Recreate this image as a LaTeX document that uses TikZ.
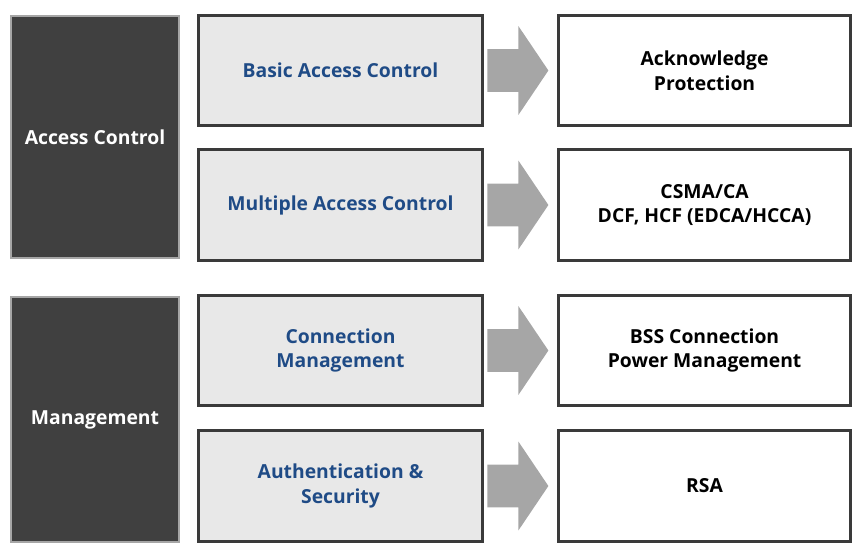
\documentclass[tikz,border=0pt]{standalone}
\usepackage{fontspec}
\setmainfont{Open Sans}
\usetikzlibrary{positioning, shapes.arrows}

\definecolor{darkbox}{HTML}{404040}
\definecolor{boxline}{HTML}{3A3A3A}
\definecolor{navytext}{HTML}{1F4B86}
\definecolor{arrowgray}{HTML}{A6A6A6}

\begin{document}
\begin{tikzpicture}[
      x=0.02cm, y=-0.02cm,
      group/.style={rectangle, draw=gray!70, line width=1.2pt, fill=darkbox, text=white,
                    minimum width=3.36cm, align=center, font=\bfseries\fontsize{11}{14}\selectfont},
      func/.style={rectangle, draw=boxline, line width=1.5pt, fill=gray!18, text=navytext,
                   minimum width=5.69cm, minimum height=2.21cm, align=center,
                   font=\bfseries\fontsize{11}{14}\selectfont},
      result/.style={rectangle, draw=boxline, line width=1.5pt, fill=white,
                     minimum width=5.85cm, minimum height=2.21cm, align=center,
                     font=\bfseries\fontsize{11}{14}\selectfont},
      blockarrow/.style={single arrow, fill=arrowgray, inner xsep=0pt, inner ysep=0.42cm,
                         minimum height=1.22cm, single arrow head extend=0.46cm,
                         single arrow tip angle=112}
    ]
    \useasboundingbox (0,0) rectangle (865,552);

    % left groups
    \node[group, minimum height=4.84cm] (access) at (95,137) {Access Control};
    \node[group, minimum height=4.9cm] (mgmt) at (95,419.5) {Management};

    % middle column
    \node[func] (basic) at (340.5,70.5) {Basic Access Control};
    \node[func] (multi) at (340.5,205) {Multiple Access Control};
    \node[func] (conn) at (340.5,350.5) {Connection\\Management};
    \node[func] (auth) at (340.5,486) {Authentication \&\\Security};

    % block arrows
    \node[blockarrow, right=0.06cm of basic] (arr1) {};
    \node[blockarrow, right=0.06cm of multi] (arr2) {};
    \node[blockarrow, right=0.06cm of conn] (arr3) {};
    \node[blockarrow, right=0.06cm of auth] (arr4) {};

    % right column
    \node[result, right=1.46cm of basic] (ack) {Acknowledge\\Protection};
    \node[result, right=1.46cm of multi] (csma) {CSMA/CA\\DCF, HCF (EDCA/HCCA)};
    \node[result, right=1.46cm of conn] (bss) {BSS Connection\\Power Management};
    \node[result, right=1.46cm of auth] (rsa) {RSA};
\end{tikzpicture}
\end{document}
